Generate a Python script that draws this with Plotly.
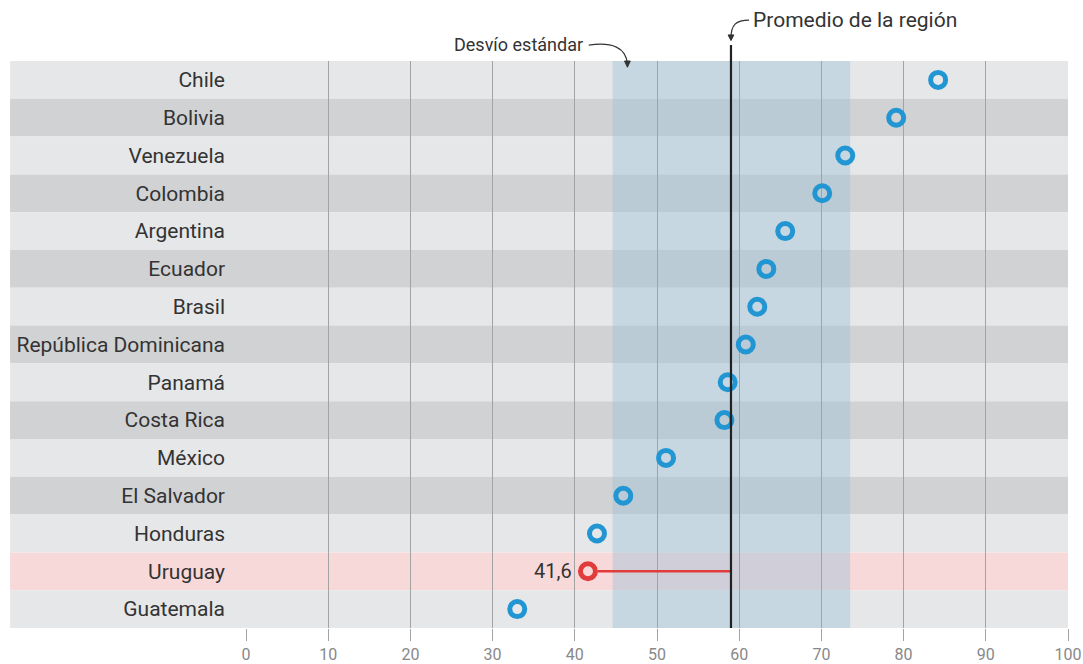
import plotly.graph_objects as go

paises = ["Chile", "Bolivia", "Venezuela", "Colombia", "Argentina", "Ecuador", "Brasil",
          "República Dominicana", "Panamá", "Costa Rica", "México", "El Salvador",
          "Honduras", "Uruguay", "Guatemala"]
valores = [84.2, 79.1, 72.9, 70.1, 65.6, 63.3, 62.2, 60.8, 58.6, 58.2, 51.1, 45.9, 42.7, 41.6, 33.0]
promedio = 59.0
desvio_min = 44.6
desvio_max = 73.5
destacado = "Uruguay"

azul = "#2196d3"
rojo = "#e03c3c"

fig = go.Figure()

shapes = []
# franjas de filas
for i, p in enumerate(paises):
    if p == destacado:
        color = "#f8d9da"
    elif i % 2 == 0:
        color = "#e6e7e9"
    else:
        color = "#d1d2d4"
    shapes.append(dict(type="rect", xref="paper", yref="y", x0=-0.287, x1=1,
                       y0=i - 0.5, y1=i + 0.5, fillcolor=color, line_width=0, layer="below"))

# banda del desvío estándar
shapes.append(dict(type="rect", xref="x", yref="paper", x0=desvio_min, x1=desvio_max,
                   y0=0, y1=1, fillcolor="rgba(160,195,215,0.45)", line_width=0, layer="below"))

# línea del promedio
shapes.append(dict(type="line", xref="x", yref="paper", x0=promedio, x1=promedio,
                   y0=0, y1=1.028, line=dict(color="#222", width=2.2)))

# flecha "Promedio de la región"
shapes.append(dict(type="path", xref="x", yref="paper",
                   path=f"M 61.2 1.072 C 59.6 1.072, {promedio} 1.064, {promedio} 1.040",
                   line=dict(color="#333", width=1.2)))
shapes.append(dict(type="path", xref="x", yref="paper",
                   path=f"M {promedio-0.35} 1.046 L {promedio} 1.036 L {promedio+0.35} 1.046 Z",
                   fillcolor="#333", line=dict(color="#333", width=1)))

# flecha "Desvío estándar"
shapes.append(dict(type="path", xref="x", yref="paper",
                   path="M 41.7 1.028 C 44.5 1.034, 46.3 1.024, 46.4 0.994",
                   line=dict(color="#333", width=1.2)))
shapes.append(dict(type="path", xref="x", yref="paper",
                   path="M 46.05 1.000 L 46.4 0.989 L 46.75 1.000 Z",
                   fillcolor="#333", line=dict(color="#333", width=1)))

# línea de Uruguay al promedio
iu = paises.index(destacado)
vu = valores[iu]

fig.add_trace(go.Scatter(x=[vu + 1.2, promedio], y=[destacado, destacado], mode="lines",
                         line=dict(color=rojo, width=2.5), hoverinfo="skip"))

colores = [rojo if p == destacado else azul for p in paises]
fig.add_trace(go.Scatter(
    x=valores, y=paises, mode="markers",
    marker=dict(size=15, color="rgba(0,0,0,0)", line=dict(color=colores, width=5)),
))

annotations = [
    dict(x=vu, y=destacado, xref="x", yref="y", text=str(vu).replace(".", ","),
         showarrow=False, xanchor="right", xshift=-14, font=dict(size=20, color="#333")),
    dict(x=61.4, y=1.073, xref="x", yref="paper", text="Promedio de la región",
         showarrow=False, xanchor="left", yanchor="middle", font=dict(size=21, color="#333")),
    dict(x=41.3, y=1.029, xref="x", yref="paper", text="Desvío estándar",
         showarrow=False, xanchor="right", yanchor="middle", font=dict(size=18, color="#333")),
]

fig.update_layout(
    width=1083, height=664,
    margin=dict(l=246, r=15, t=61, b=36),
    paper_bgcolor="white", plot_bgcolor="white",
    font=dict(family="Roboto", color="#333"),
    showlegend=False,
    shapes=shapes,
    annotations=annotations,
    xaxis=dict(range=[0, 100], tickvals=list(range(0, 101, 10)), showgrid=True,
               gridcolor="#a3a3a3", gridwidth=1, zeroline=False, showline=False,
               ticks="outside", ticklen=12, tickcolor="#a3a3a3", tickwidth=1,
               tickfont=dict(size=16, color="#888"), automargin=False),
    yaxis=dict(type="category", categoryorder="array", categoryarray=paises,
               range=[len(paises) - 0.5, -0.5], showgrid=False, zeroline=False,
               ticks="", ticklabelstandoff=20, tickfont=dict(size=21, color="#333"),
               automargin=False),
)

# sin margen del body para que la figura empiece en (0, 0)
fig.write_html("out.html", config={"displayModeBar": False},
               post_script="document.body.style.margin = '0';")
